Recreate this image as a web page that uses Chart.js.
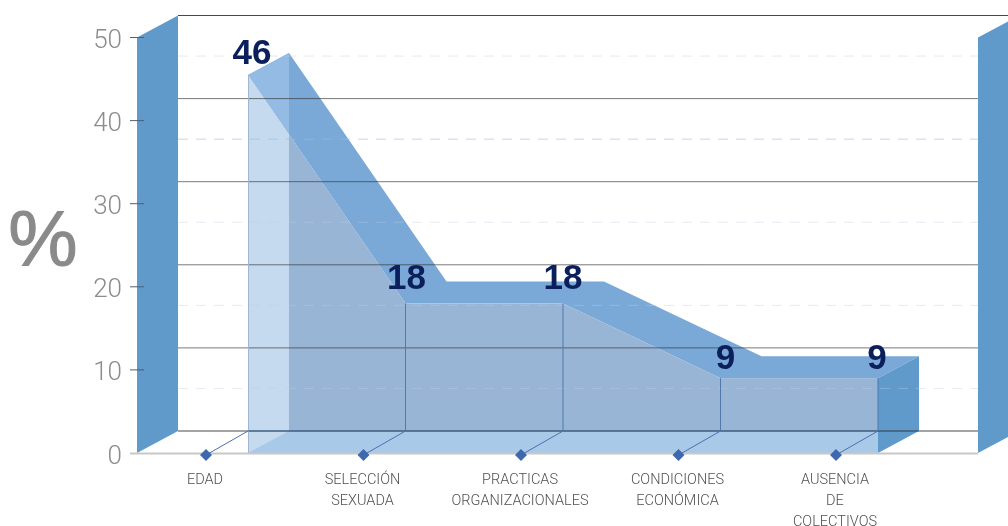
<!DOCTYPE html>
<html><head><meta charset="utf-8">
<style>html,body{margin:0;padding:0;background:#fff}canvas{display:block}</style>
<script src="https://cdn.jsdelivr.net/npm/chart.js@4"></script></head>
<body><canvas id="c" width="1008" height="526"></canvas>
<script>
const categories=["EDAD",["SELECCIÓN","SEXUADA"],["PRACTICAS","ORGANIZACIONALES"],["CONDICIONES","ECONÓMICA"],["AUSENCIA","DE","COLECTIVOS"]];
const values=[45.5,18,18,9,9];
const valueLabels=["46","18","18","9","9"];
const yTicks=[0,10,20,30,40,50];
const axisUnit="%";
const depthX=41,depthY=22,tickShift=42;
const labelNudge=[[4,-21],[1,-24],[0,-24],[5,-19],[-1,-19]];

function poly(ctx,pts,fill){ctx.beginPath();pts.forEach((p,i)=>i?ctx.lineTo(p[0],p[1]):ctx.moveTo(p[0],p[1]));ctx.closePath();ctx.fillStyle=fill;ctx.fill();}
function line(ctx,x1,y1,x2,y2,color,w,dash){ctx.save();ctx.beginPath();ctx.moveTo(x1,y1);ctx.lineTo(x2,y2);ctx.strokeStyle=color;ctx.lineWidth=w||1;ctx.setLineDash(dash||[]);ctx.stroke();ctx.restore();}
function geo(chart){
  const x=chart.scales.x,y=chart.scales.y;
  const front=values.map((v,i)=>[x.getPixelForValue(i),y.getPixelForValue(v)]);
  const back=front.map(p=>[p[0]+depthX,p[1]-depthY]);
  return {x,y,front,back,base:y.getPixelForValue(0)};
}
const scene={
  id:'scene',
  beforeDatasetsDraw(chart){
    const {ctx}=chart,{front,back}=geo(chart);
    const x0=front[0][0]+depthX;
    poly(ctx,front.concat(back.slice().reverse()),'#7aa9d8');
    ctx.save();ctx.beginPath();ctx.rect(0,0,x0,chart.height);ctx.clip();
    poly(ctx,front.concat(back.slice().reverse()),'#93bbe3');
    ctx.restore();
  },
  afterDatasetsDraw(chart){
    const {ctx,chartArea:a}=chart,{y,front,back,base}=geo(chart);
    const n=front.length,floorY=base-depthY,xL=front[0][0],xR=front[n-1][0];
    // rear part of the body seen through the front face
    ctx.save();ctx.beginPath();ctx.rect(xL+depthX,0,chart.width,floorY);ctx.clip();
    poly(ctx,front.concat([[xR,base],[xL,base]]),'#98b5d6');
    ctx.restore();
    // floor and side of the body
    poly(ctx,[[xL,base],[xL+depthX,floorY],[xR,floorY],[xR,base]],'#a8c9e8');
    poly(ctx,[[xR,front[n-1][1]],[xR+depthX,back[n-1][1]],[xR+depthX,floorY],[xR,base]],'#5f9acb');
    // back-plane grid
    const gx=a.left+depthX;
    yTicks.forEach((v,i)=>{
      const py=y.getPixelForValue(v)-depthY;
      const col=(v===0||v===50)?'rgba(40,40,40,0.85)':'rgba(50,50,50,0.65)';
      line(ctx,gx,py,v===50?chart.width:a.right,py,col,1);
      if(i<yTicks.length-1){
        const dy=y.getPixelForValue(v+5)-depthY-1;
        const dc=(v===30)?'rgba(150,185,225,0.6)':'rgba(190,205,225,0.4)';
        line(ctx,gx,dy,a.right,dy,dc,1,[10,8]);
      }
    });
    // body edges
    line(ctx,xL+.5,front[0][1],xL+.5,base,'#9fb6d2',1);
    line(ctx,xL,floorY,xR,floorY,'#3f6b9f',1);
    front.slice(1).forEach(p=>line(ctx,p[0],p[1],p[0],floorY,'#5079aa',1));
    // walls
    const wall='#5f9acb',top=a.top;
    poly(ctx,[[a.left,top],[gx,top-depthY],[gx,floorY],[a.left,base]],wall);
    poly(ctx,[[a.right,top],[a.right+depthX,top-depthY],[a.right+depthX,floorY],[a.right,base]],wall);
    // floor front edge and tick stubs
    line(ctx,a.left-7,base+.5,a.right,base+.5,'#c8c8c8',2);
    yTicks.forEach(v=>{if(v>0){const py=y.getPixelForValue(v);line(ctx,a.left-7,py,a.left+7,py,'#4d5f70',1);}});
    // category markers
    front.forEach(p=>{
      const dx=p[0]-tickShift,dy=base+2;
      line(ctx,dx,dy,p[0],floorY,'#4a72ad',1);
      poly(ctx,[[dx,dy-6],[dx+6,dy],[dx,dy+6],[dx-6,dy]],'#3f68ae');
    });
    // value labels
    ctx.save();ctx.font='bold 35px "Liberation Sans"';ctx.fillStyle='#0b1f5c';ctx.textAlign='center';ctx.textBaseline='middle';
    front.forEach((p,i)=>ctx.fillText(valueLabels[i],p[0]+labelNudge[i][0],p[1]+labelNudge[i][1]));
    ctx.restore();
    // axis unit
    ctx.save();ctx.font='400 78px "Liberation Sans"';ctx.fillStyle='#8a8a8a';ctx.strokeStyle='#8a8a8a';ctx.lineWidth=1;ctx.textAlign='center';ctx.textBaseline='middle';
    ctx.fillText(axisUnit,43,244);ctx.strokeText(axisUnit,43,244);ctx.restore();
  }
};
new Chart(document.getElementById('c'),{
  type:'line',
  data:{datasets:[{data:values.map((v,i)=>({x:i,y:v})),backgroundColor:'#c5daee',borderWidth:0,pointRadius:0,tension:0,fill:'origin'}]},
  options:{
    responsive:false,animation:false,events:[],
    layout:{padding:{top:37.5,right:30,left:0,bottom:0}},
    plugins:{legend:{display:false},tooltip:{enabled:false},title:{display:false}},
    scales:{
      x:{type:'linear',min:-0.705,max:4.635,
        afterBuildTicks(s){s.ticks=categories.map((_,i)=>({value:i}));},
        afterFit(s){s.height=73;},
        grid:{display:false},border:{display:false},
        ticks:{autoSkip:false,maxRotation:0,minRotation:0,labelOffset:-tickShift-1,padding:9,color:'#505050',
          font:{family:'Roboto',weight:300,size:14.5,lineHeight:1.45},
          callback(v){return categories[v];}}},
      y:{min:0,max:50,
        afterBuildTicks(s){s.ticks=yTicks.map(v=>({value:v}));},
        afterFit(s){s.width=137;},
        grid:{drawOnChartArea:false,drawTicks:false},border:{display:false},
        ticks:{padding:15,labelOffset:4,color:'#8c8c8c',font:{family:'Roboto',weight:300,size:26}}}
    }
  },
  plugins:[scene]
});
</script></body></html>
